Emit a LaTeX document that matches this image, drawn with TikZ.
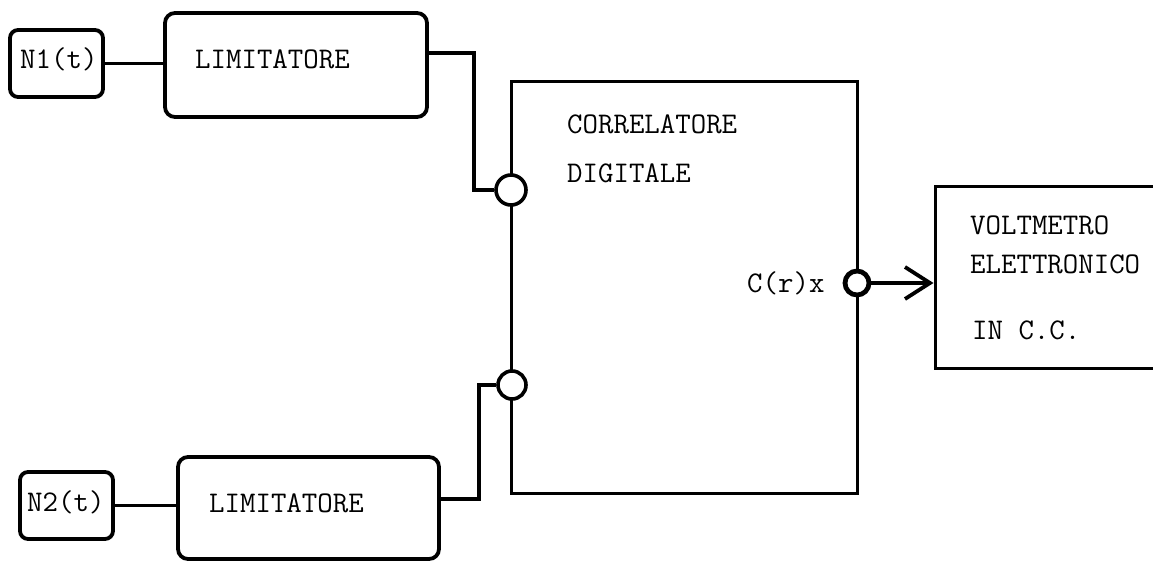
\documentclass[tikz,border=0pt]{standalone}
\usetikzlibrary{arrows.meta}
\begin{document}
\begin{tikzpicture}[x=1pt,y=-1pt,
  txt/.style={font=\fontsize{30}{36}\selectfont\ttfamily, inner sep=0pt, anchor=base west},
  rbox/.style={draw, line width=3.8pt, rounded corners=10pt, inner sep=0pt},
  sbox/.style={draw, line width=3pt, inner sep=0pt},
  port/.style={circle, draw, fill=white, line width=3.6pt, inner sep=0pt},
  wire/.style={line width=3.4pt},
]
\useasboundingbox (0,0) rectangle (1153,561);
\clip (0,0) rectangle (1153,561);

% boxes
\node[rbox, rounded corners=8pt, minimum width=93pt, minimum height=67pt] (n1) at (56.5,63.5) {};
\node[rbox, minimum width=262pt, minimum height=104pt] (lim1) at (296,65) {};
\node[rbox, rounded corners=8pt, minimum width=93pt, minimum height=67pt] (n2) at (66.5,505.5) {};
\node[rbox, minimum width=261pt, minimum height=102pt] (lim2) at (308.5,508) {};
\node[sbox, minimum width=346pt, minimum height=411pt] (corr) at (684,287.5) {};
\node[sbox, minimum width=230pt, minimum height=181pt] (volt) at (1050,277.5) {};

% texts
\node[txt] (n1t) at (20,69) {N1(t)};
\node[txt] (l1t) at (195,69) {LIMITATORE};
\node[txt] (n2t) at (27,511) {N2(t)};
\node[txt] (l2t) at (209,512) {LIMITATORE};
\node[txt] (ct1) at (567,134) {CORRELATORE};
\node[txt] (ct2) at (567,183) {DIGITALE};
\node[txt] (crx) at (747,292) {C(r)x};
\node[txt] (vt1) at (970,235) {VOLTMETRO};
\node[txt] (vt2) at (970,273) {ELETTRONICO};
\node[txt] (vt3) at (972,339) {IN C.C.};

% ports
\node[port, minimum size=30pt] (c1) at (511,190) {};
\node[port, minimum size=28pt] (c2) at (512,385) {};
\node[port, minimum size=24pt, line width=4.8pt] (c3) at (857,283) {};

% connectors
\draw[wire] (n1.east) -- (n1.east -| lim1.west);
\draw[wire] (n2.east) -- (n2.east -| lim2.west);
\draw[wire] ([yshift=12pt]lim1.east) -- ++(45,0) |- (c1.west);
\draw[wire] ([yshift=9pt]lim2.east) -- ++(38,0) |- (c2.west);
\draw[wire, line width=3.8pt, -{Straight Barb[length=25pt,width=32pt]}] (c3.east) -- (c3.east -| volt.west);
\end{tikzpicture}
\end{document}
